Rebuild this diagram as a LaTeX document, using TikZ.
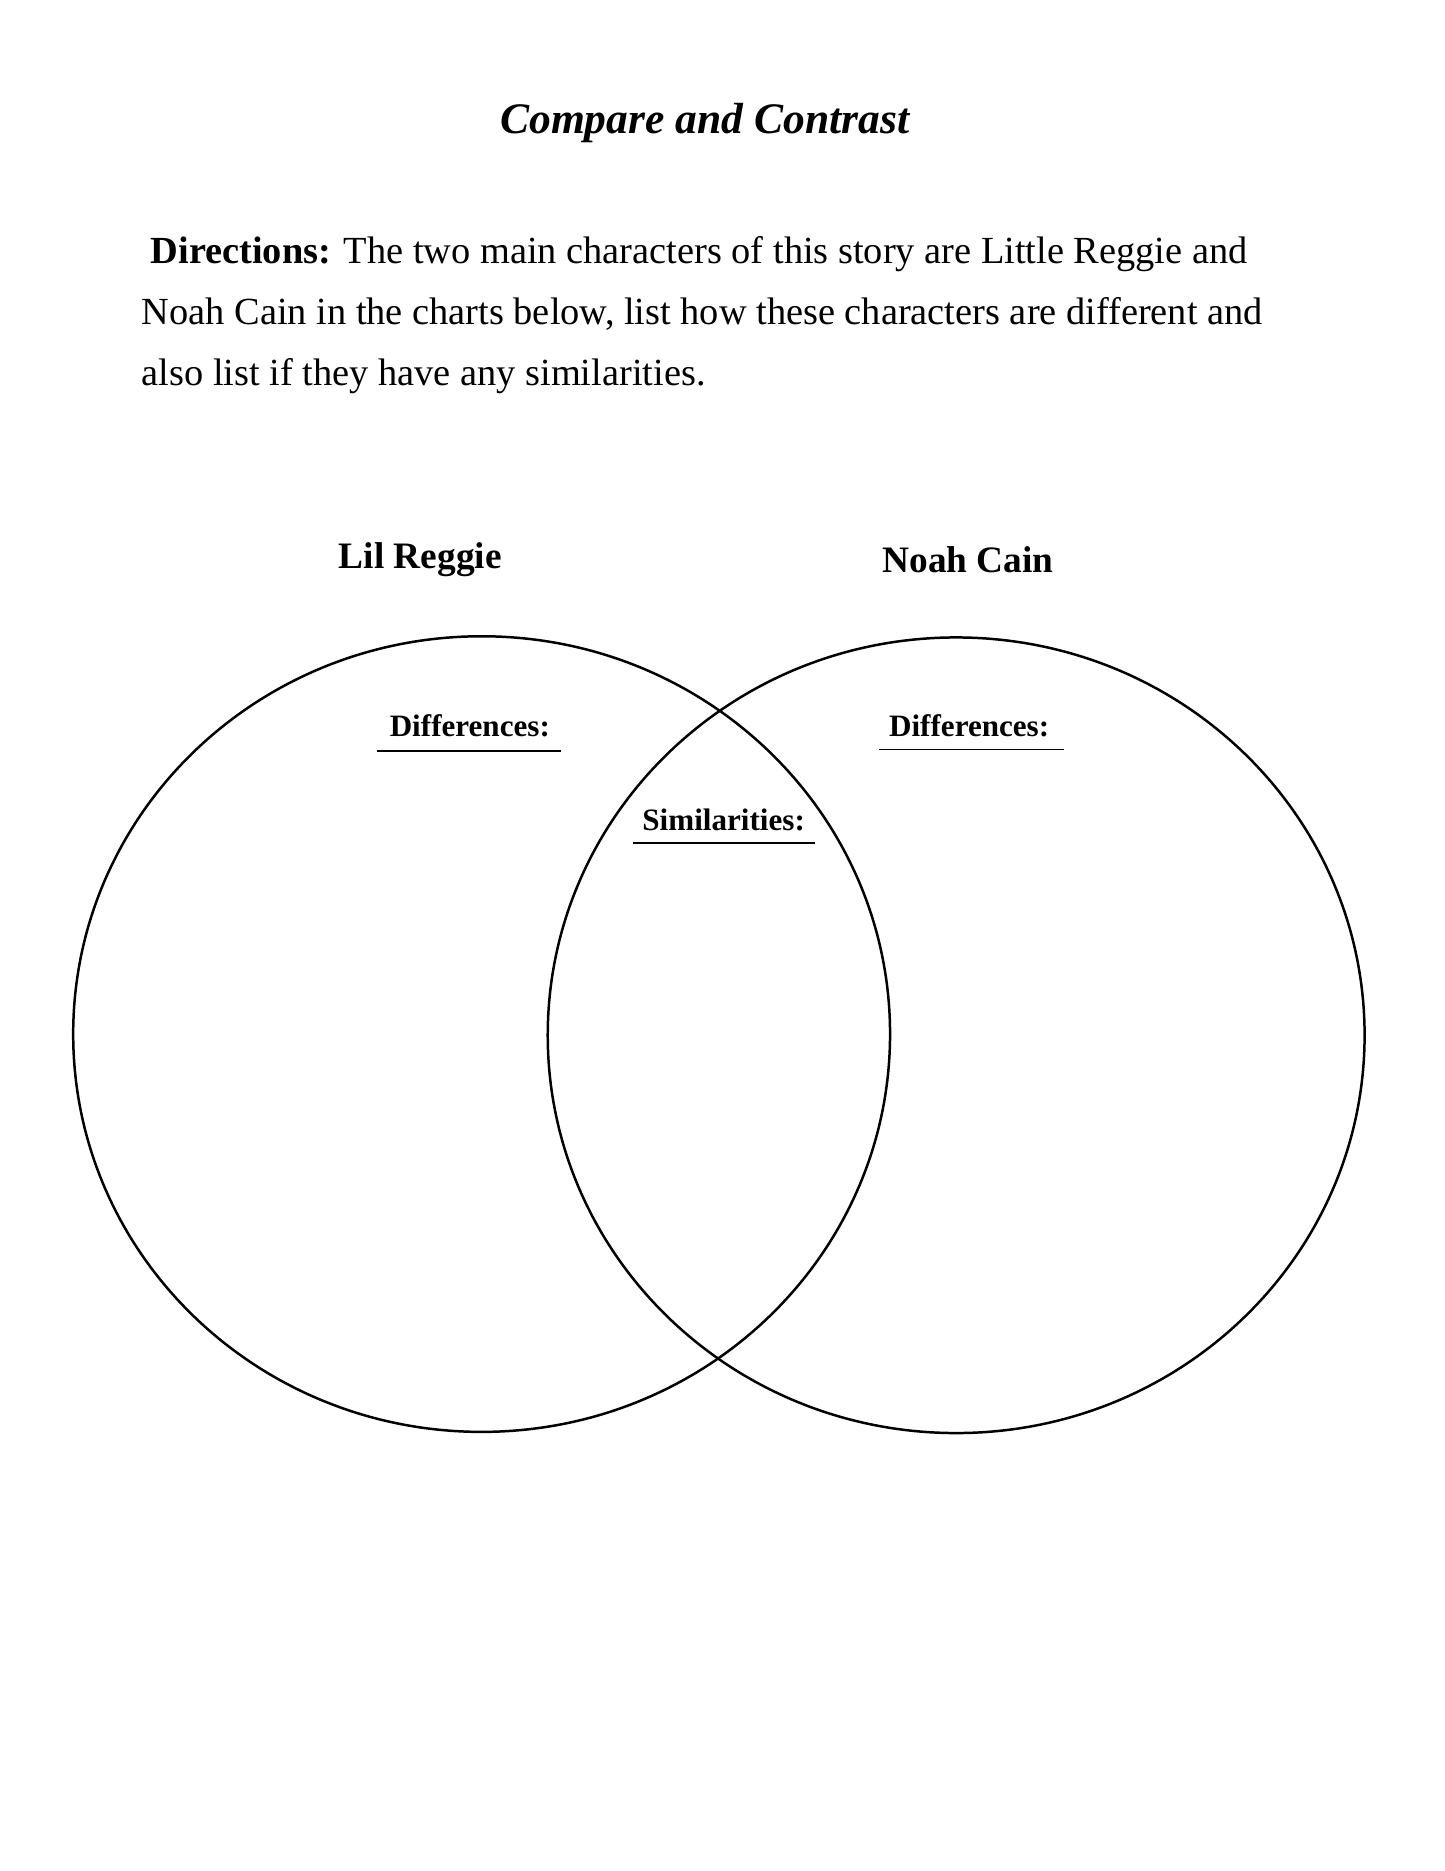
\documentclass[tikz,border=0pt]{standalone}
\usepackage{fontspec}
\setmainfont{Liberation Serif}
\usetikzlibrary{positioning}
\tikzset{
  ring/.style={line width=1.2pt},
  head/.style={font=\fontsize{18}{22}\selectfont\bfseries},
  tag/.style={font=\fontsize{15}{18}\selectfont\bfseries},
  rule/.style={line width=0.8pt}
}
\begin{document}
\begin{tikzpicture}[x=0.02cm,y=-0.02cm]
      \useasboundingbox (0,0) rectangle (1224,1585);
      \node (title) at (597,104) {\fontsize{21}{25}\selectfont\bfseries\itshape Compare and Contrast};
      \node[anchor=north west,align=left,font=\fontsize{18.5}{29.5}\selectfont] (dir) at (114,194)
        {\hspace*{0.15cm}\textbf{Directions:} The two main characters of this story are Little Reggie and\\
         Noah Cain in the charts below, list how these characters are different and\\
         also list if they have any similarities.};
      \draw[ring] (408,876) ellipse (346 and 337);
      \draw[ring] (810,877) ellipse (346 and 337);
      \node[head] (lil) at (356,474) {Lil Reggie};
      \node[head] (noah) at (820,474) {Noah Cain};
      \node[tag] (dl) at (398,615) {Differences:};
      \node[tag] (dr) at (821,615) {Differences:};
      \node[tag] (sim) at (613,695) {Similarities:};
      \draw[rule] (319,636) -- (475,636);
      \draw[rule] (745,635) -- (901,635);
      \draw[rule] (536,714) -- (690,714);
\end{tikzpicture}
\end{document}
